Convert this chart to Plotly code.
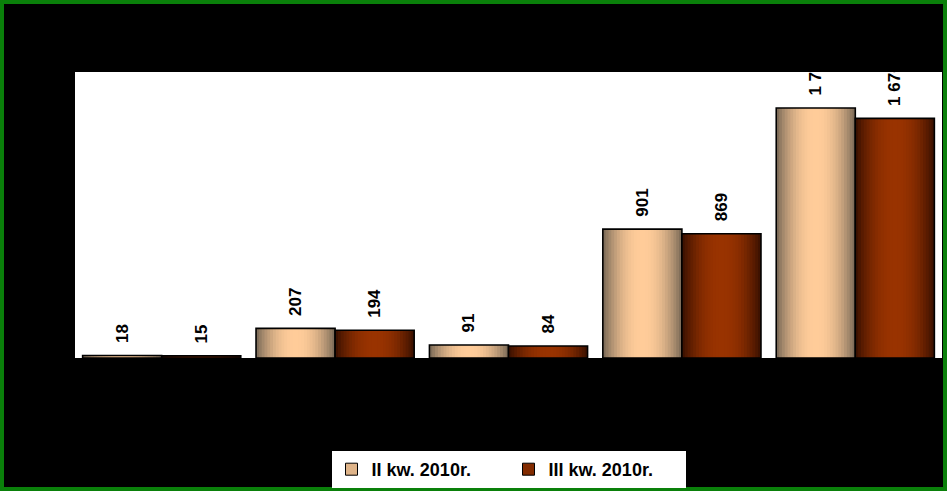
import plotly.graph_objects as go

# ---- data ----
categories = ["1", "2", "3", "4", "5"]
series_names = ["II kw. 2010r.", "III kw. 2010r."]
q2_values = [18, 207, 91, 901, 1748]
q3_values = [15, 194, 84, 869, 1676]

# ---- geometry / style ----
W, H = 947, 491
ML, MR, MT, MB = 75, 5, 72, 133
PW, PH = W - ML - MR, H - MT - MB
BAR_W = 0.456
N_LAYERS = 14
FONT = "Liberation Sans, Arial, sans-serif"


def fmt(v):
    return f"{v:,}".replace(",", " ")


def mix(c1, c2, t):
    return "rgb(%d,%d,%d)" % tuple(round(a + (b - a) * t) for a, b in zip(c1, c2))


series = [
    dict(name=series_names[0], values=q2_values, center=-BAR_W / 2,
         edge=(128, 110, 90), mid=(255, 204, 153)),
    dict(name=series_names[1], values=q3_values, center=BAR_W / 2,
         edge=(62, 18, 0), mid=(153, 51, 0)),
]

fig = go.Figure()

for s in series:
    # gradient layers (outer dark -> inner light)
    for k in range(N_LAYERS):
        frac = 1 - k / N_LAYERS
        t = k / (N_LAYERS - 1)
        t = 1 - (1 - t) ** 2
        w = BAR_W * frac
        fig.add_trace(go.Bar(
            x=categories, y=s["values"], width=w, offset=s["center"] - w / 2,
            marker=dict(color=mix(s["edge"], s["mid"], t), line=dict(width=0)),
            showlegend=False, hoverinfo="skip",
        ))
    # outline + labels
    fig.add_trace(go.Bar(
        x=categories, y=s["values"], width=BAR_W, offset=s["center"] - BAR_W / 2,
        marker=dict(color="rgba(0,0,0,0)", line=dict(color="black", width=1.6)),
        text=["  " + fmt(v) for v in s["values"]],
        textposition="outside", textangle=-90,
        textfont=dict(family=FONT, size=17, color="black", weight="bold"),
        cliponaxis=True, showlegend=False, name=s["name"],
    ))

# legend-only entries
for s in series:
    fig.add_trace(go.Bar(
        x=[None], y=[None], name=s["name"],
        marker=dict(color=mix(s["edge"], s["mid"], 0.75), line=dict(color="black", width=1)),
    ))

# green frame around the whole picture
bw = 4
fig.add_shape(
    type="rect", xref="paper", yref="paper",
    x0=(bw / 2 - ML) / PW, x1=(W - bw / 2 - ML) / PW,
    y0=(H - MB - (H - bw / 2)) / PH, y1=(H - MB - bw / 2) / PH,
    line=dict(color="#0a800a", width=bw), fillcolor="rgba(0,0,0,0)", layer="above",
)

fig.update_layout(
    width=W, height=H, autosize=False,
    margin=dict(l=ML, r=MR, t=MT, b=MB, pad=0),
    paper_bgcolor="black", plot_bgcolor="white",
    barmode="overlay",
    showlegend=True,
    legend=dict(
        orientation="h", xref="container", yref="container",
        x=(ML + PW / 2) / W, xanchor="center", y=1 - 451 / H, yanchor="top",
        bgcolor="white", borderwidth=0,
        font=dict(family=FONT, size=18, color="black", weight="bold"),
        traceorder="normal", entrywidth=132,
    ),
    xaxis=dict(range=[-0.5, 4.5], showticklabels=False, showgrid=False,
               zeroline=False, showline=False, ticks=""),
    yaxis=dict(range=[0, 2000], showticklabels=False, showgrid=False,
               zeroline=False, showline=False, ticks=""),
)

fig.write_html(
    "out.html",
    config={"displayModeBar": False, "responsive": False},
    post_script="document.body.style.margin='0';document.body.style.padding='0';"
                "document.body.style.background='black';",
)
